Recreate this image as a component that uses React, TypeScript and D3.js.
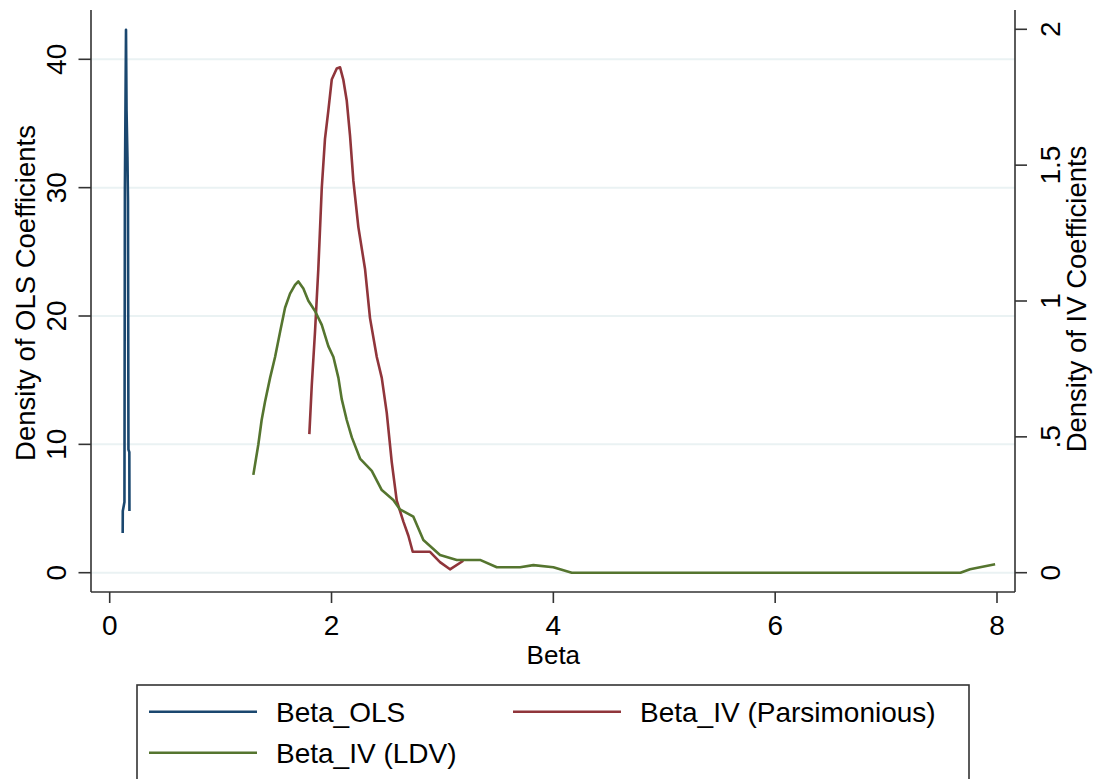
import React, { useEffect, useRef } from "react";
import * as d3 from "d3";

// --- Data
// Beta_OLS: kernel density, left axis
const olsX = [0.117, 0.118, 0.133, 0.137, 0.147, 0.152, 0.16, 0.165, 0.169, 0.177, 0.178];
const olsY = [3.1, 4.8, 5.5, 30, 42.3, 36, 32.4, 29, 9.6, 9.4, 4.8];

// Beta_IV (Parsimonious): right axis
const parsX = [
  1.8, 1.822, 1.851, 1.881, 1.912, 1.941, 1.971, 2.002, 2.047, 2.077, 2.106, 2.137, 2.167,
  2.197, 2.242, 2.302, 2.347, 2.408, 2.453, 2.498, 2.543, 2.588, 2.648, 2.693, 2.732, 2.798,
  2.888, 2.978, 3.068, 3.188,
];
const parsY = [
  0.51, 0.691, 0.886, 1.118, 1.416, 1.597, 1.7, 1.815, 1.856, 1.86, 1.815, 1.738, 1.608,
  1.442, 1.272, 1.118, 0.937, 0.794, 0.717, 0.588, 0.407, 0.265, 0.188, 0.136, 0.077, 0.077,
  0.077, 0.039, 0.0125, 0.044,
];

// Beta_IV (LDV): right axis
const ldvX = [
  1.295, 1.34, 1.37, 1.4, 1.446, 1.491, 1.536, 1.581, 1.626, 1.671, 1.701, 1.746, 1.791,
  1.851, 1.912, 1.971, 2.017, 2.062, 2.092, 2.137, 2.183, 2.257, 2.363, 2.453, 2.557, 2.617,
  2.738, 2.828, 2.873, 2.978, 3.129, 3.339, 3.49, 3.7, 3.82, 4.0, 4.166, 5.0, 6.0, 7.0, 7.67,
  7.757, 7.983,
];
const ldvY = [
  0.36, 0.472, 0.562, 0.628, 0.717, 0.794, 0.886, 0.975, 1.027, 1.059, 1.072, 1.046, 1.001,
  0.963, 0.912, 0.834, 0.794, 0.717, 0.639, 0.562, 0.498, 0.42, 0.375, 0.304, 0.268, 0.233,
  0.206, 0.12, 0.104, 0.065, 0.047, 0.047, 0.02, 0.02, 0.028, 0.02, 0, 0, 0, 0, 0, 0.0125,
  0.031,
];

// --- Ticks
const xTicks = [0, 2, 4, 6, 8];
const leftTicks = [0, 10, 20, 30, 40];
const rightTicks = [0, 0.5, 1, 1.5, 2];
const rightTickLabels = ["0", ".5", "1", "1.5", "2"];

const seriesNames = ["Beta_OLS", "Beta_IV (Parsimonious)", "Beta_IV (LDV)"];
const seriesColors = ["#1a476f", "#90353b", "#55752f"];

const App: React.FC = () => {
  const ref = useRef<SVGSVGElement | null>(null);

  useEffect(() => {
    if (!ref.current) return;
    const width = 1101;
    const height = 779;
    const font = "'Liberation Sans', Arial, sans-serif";
    const axisColor = "#333";

    // frame of the plot region
    const frame = { left: 91, right: 1015, top: 10, bottom: 592 };

    const svg = d3.select(ref.current).attr("width", width).attr("height", height);
    svg.selectAll("*").remove();

    const x = d3.scaleLinear().domain([0, 8]).range([109.7, 997]);
    const yL = d3.scaleLinear().domain([0, 40]).range([572.7, 59.3]);
    const yR = d3.scaleLinear().domain([0, 2]).range([572.7, 29.3]);

    svg.append("rect").attr("width", width).attr("height", height).attr("fill", "white");

    // Gridlines (at left axis ticks)
    svg
      .selectAll(".grid")
      .data(leftTicks)
      .join("line")
      .attr("x1", frame.left)
      .attr("x2", frame.right)
      .attr("y1", (d) => yL(d))
      .attr("y2", (d) => yL(d))
      .attr("stroke", "#eaf2f3")
      .attr("stroke-width", 2);

    // Curves
    const makeLine = (ys: d3.ScaleLinear<number, number>) =>
      d3
        .line<[number, number]>()
        .x((d) => x(d[0]))
        .y((d) => ys(d[1]));

    const series: { xs: number[]; ys: number[]; scale: d3.ScaleLinear<number, number>; color: string }[] = [
      { xs: olsX, ys: olsY, scale: yL, color: seriesColors[0] },
      { xs: parsX, ys: parsY, scale: yR, color: seriesColors[1] },
      { xs: ldvX, ys: ldvY, scale: yR, color: seriesColors[2] },
    ];

    series.forEach((s) => {
      const pts = s.xs.map((v, i) => [v, s.ys[i]] as [number, number]);
      svg
        .append("path")
        .datum(pts)
        .attr("d", makeLine(s.scale))
        .attr("fill", "none")
        .attr("stroke", s.color)
        .attr("stroke-width", 2.6)
        .attr("stroke-linejoin", "round");
    });

    // Axis lines
    const axes = svg.append("g").attr("stroke", axisColor).attr("stroke-width", 1.6);
    axes.append("line").attr("x1", frame.left).attr("x2", frame.left).attr("y1", frame.top).attr("y2", frame.bottom);
    axes.append("line").attr("x1", frame.right).attr("x2", frame.right).attr("y1", frame.top).attr("y2", frame.bottom);
    axes.append("line").attr("x1", frame.left).attr("x2", frame.right).attr("y1", frame.bottom).attr("y2", frame.bottom);

    // X ticks
    axes
      .selectAll(".xt")
      .data(xTicks)
      .join("line")
      .attr("x1", (d) => x(d))
      .attr("x2", (d) => x(d))
      .attr("y1", frame.bottom)
      .attr("y2", frame.bottom + 11);
    svg
      .selectAll(".xl")
      .data(xTicks)
      .join("text")
      .attr("x", (d) => x(d))
      .attr("y", 635)
      .attr("text-anchor", "middle")
      .style("font-family", font)
      .style("font-size", "28px")
      .text((d) => String(d));

    // Left ticks
    axes
      .selectAll(".lt")
      .data(leftTicks)
      .join("line")
      .attr("x1", frame.left - 12.5)
      .attr("x2", frame.left)
      .attr("y1", (d) => yL(d))
      .attr("y2", (d) => yL(d));
    svg
      .selectAll(".ll")
      .data(leftTicks)
      .join("text")
      .attr("transform", (d) => `translate(66, ${yL(d)}) rotate(-90)`)
      .attr("text-anchor", "middle")
      .style("font-family", font)
      .style("font-size", "28px")
      .text((d) => String(d));

    // Right ticks
    axes
      .selectAll(".rt")
      .data(rightTicks)
      .join("line")
      .attr("x1", frame.right)
      .attr("x2", frame.right + 12)
      .attr("y1", (d) => yR(d))
      .attr("y2", (d) => yR(d));
    svg
      .selectAll(".rl")
      .data(rightTicks)
      .join("text")
      .attr("transform", (d) => `translate(1060, ${yR(d)}) rotate(-90)`)
      .attr("text-anchor", "middle")
      .style("font-family", font)
      .style("font-size", "28px")
      .text((d, i) => rightTickLabels[i]);

    // Axis titles
    svg
      .append("text")
      .attr("transform", "translate(35, 293) rotate(-90)")
      .attr("text-anchor", "middle")
      .style("font-family", font)
      .style("font-size", "27.5px")
      .text("Density of OLS Coefficients");
    svg
      .append("text")
      .attr("transform", "translate(1086, 299) rotate(-90)")
      .attr("text-anchor", "middle")
      .style("font-family", font)
      .style("font-size", "27.5px")
      .text("Density of IV Coefficients");
    svg
      .append("text")
      .attr("x", x(4))
      .attr("y", 664)
      .attr("text-anchor", "middle")
      .style("font-family", font)
      .style("font-size", "26px")
      .text("Beta");

    // Legend
    svg
      .append("rect")
      .attr("x", 137)
      .attr("y", 685)
      .attr("width", 832)
      .attr("height", 130)
      .attr("fill", "white")
      .attr("stroke", axisColor)
      .attr("stroke-width", 1.6);

    const legendPos = [
      { lx: 149, ly: 711.7 },
      { lx: 513, ly: 711.7 },
      { lx: 149, ly: 752.7 },
    ];
    const items = svg
      .selectAll(".leg")
      .data(seriesNames)
      .join("g")
      .attr("transform", (d, i) => `translate(${legendPos[i].lx}, ${legendPos[i].ly})`);
    items
      .append("line")
      .attr("x1", 0)
      .attr("x2", 108)
      .attr("stroke", (d, i) => seriesColors[i])
      .attr("stroke-width", 2.6);
    items
      .append("text")
      .attr("x", 127)
      .attr("y", 10)
      .style("font-family", font)
      .style("font-size", "28px")
      .text((d) => d);

    return () => {
      d3.select(ref.current).selectAll("*").remove();
    };
  }, []);

  return <svg ref={ref} style={{ position: "absolute", left: 0, top: 0, display: "block" }}></svg>;
};

export default App;
